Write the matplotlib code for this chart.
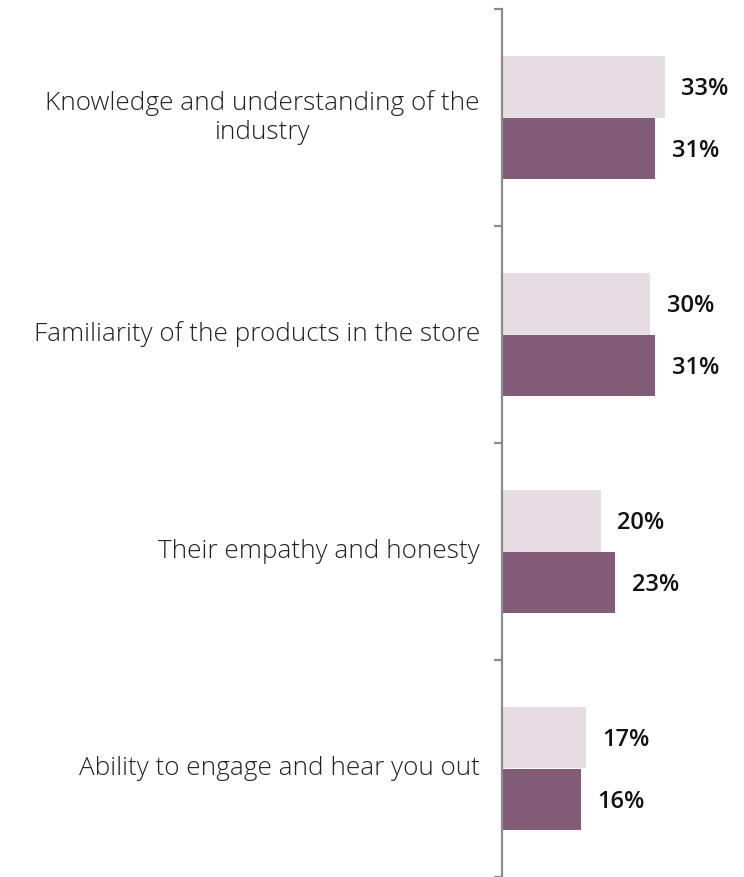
import matplotlib.pyplot as plt
import numpy as np

categories = [
    "Knowledge and understanding of the\nindustry",
    "Familiarity of the products in the store",
    "Their empathy and honesty",
    "Ability to engage and hear you out",
]
light_vals = [33, 30, 20, 17]
dark_vals = [31, 31, 23, 16]

light_color = "#e6dce4"
dark_color = "#825b77"
axis_color = "#8c8c8c"

fig = plt.figure(figsize=(7.44, 8.77), dpi=100)
ax = fig.add_axes([502 / 744, 0, 242 / 744, 868 / 877])

y = np.arange(len(categories))
h = 0.2857
ax.barh(y - h / 2, light_vals, height=h, color=light_color)
ax.barh(y + h / 2, dark_vals, height=h, color=dark_color)

# value labels to the right of each bar
for yi, v in zip(y, light_vals):
    ax.text(v + 3.4, yi - h / 2 + 0.01, f"{v}%", va="center", ha="left",
            fontsize=17, fontweight="semibold", family="Open Sans", color="#111111")
for yi, v in zip(y, dark_vals):
    ax.text(v + 3.4, yi + h / 2 + 0.01, f"{v}%", va="center", ha="left",
            fontsize=17, fontweight="semibold", family="Open Sans", color="#111111")

# category names, right aligned left of the axis
for yi, name in zip(y, categories):
    ax.text(-4.5, yi, name, va="center", ha="right", multialignment="center",
            fontsize=18.8, fontweight=300, family="Open Sans", color="#222222",
            linespacing=1.22)

ax.set_xlim(0, 49.1)
ax.set_ylim(len(categories) - 0.5, -0.5)

for s in ["top", "right", "bottom"]:
    ax.spines[s].set_visible(False)
ax.spines["left"].set_color(axis_color)
ax.spines["left"].set_linewidth(1.6)

ax.set_xticks([])
ax.set_yticks(np.arange(-0.5, len(categories), 1.0))
ax.set_yticklabels([])
ax.tick_params(axis="y", length=6, width=1.6, color=axis_color, direction="out")

fig.savefig("out.png", dpi=100)
